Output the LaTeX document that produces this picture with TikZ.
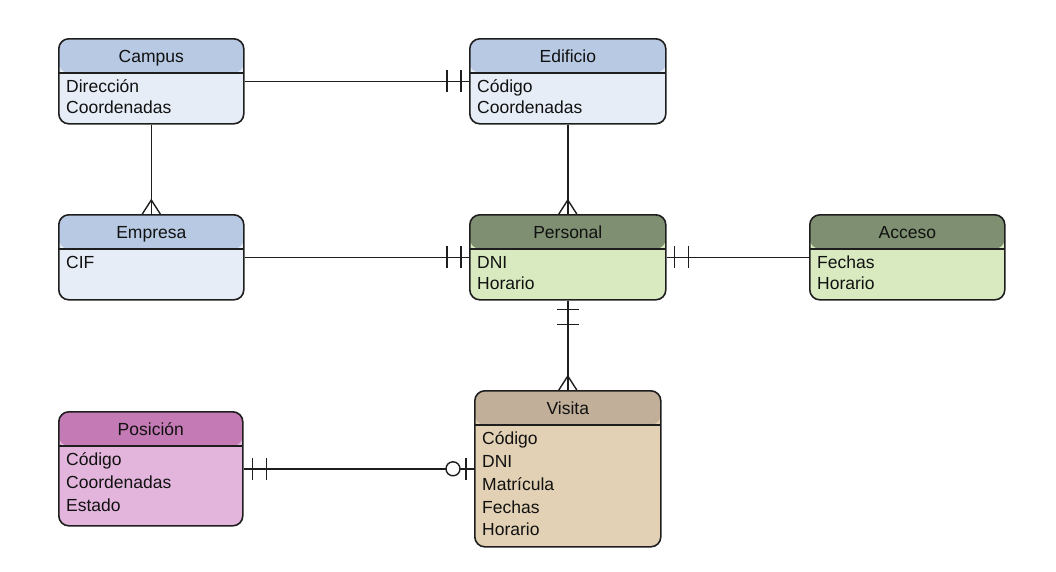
\documentclass[tikz,border=0pt]{standalone}
\usepackage{fontspec}
\setmainfont{Liberation Sans}
\usetikzlibrary{calc}
\definecolor{edge}{HTML}{1E1E1E}
\definecolor{txt}{HTML}{111111}
\definecolor{blueHead}{HTML}{B8CAE3}
\definecolor{blueBody}{HTML}{E6EDF7}
\definecolor{greenHead}{HTML}{7E8F72}
\definecolor{greenBody}{HTML}{D9EAC1}
\definecolor{tanHead}{HTML}{C1AF99}
\definecolor{tanBody}{HTML}{E2D1B4}
\definecolor{pinkHead}{HTML}{C47AB4}
\definecolor{pinkBody}{HTML}{E3B5DC}
\tikzset{
  entity/.style 2 args={draw=edge, line width=1.6pt, rounded corners=10pt, inner sep=0pt,
    anchor=north west, fill=#2,
    path picture={
      \fill[#1] (path picture bounding box.north west) rectangle ([yshift=-34pt]path picture bounding box.north east);
      \draw[edge, line width=1.5pt] ([yshift=-34pt]path picture bounding box.north west) -- ([yshift=-34pt]path picture bounding box.north east);
    }},
  etitle/.style={anchor=base, inner sep=0pt, text=txt, font=\fontsize{17.5}{21}\selectfont},
  erow/.style={anchor=base west, inner sep=0pt, text=txt, font=\fontsize{17.5}{21}\selectfont},
  conn/.style={draw=edge, line width=1.4pt},
  endmark/.style={draw=edge, line width=1.4pt},
}
\begin{document}
\begin{tikzpicture}[x=1pt,y=-1pt]
\useasboundingbox (0,0) rectangle (1056,571);
% entities
\node[entity={blueHead}{blueBody}, minimum width=185pt, minimum height=85pt] (campus) at (58,38) {};
\node[etitle] (campus-t) at ([yshift=-24pt]campus.north) {Campus};
\node[erow] (campus-r1) at ($(campus.north west)+(8,54)$) {Dirección};
\node[erow] (campus-r2) at ($(campus.north west)+(8,75)$) {Coordenadas};

\node[entity={blueHead}{blueBody}, minimum width=196pt, minimum height=85pt] (edificio) at (469,38) {};
\node[etitle] (edificio-t) at ([yshift=-24pt]edificio.north) {Edificio};
\node[erow] (edificio-r1) at ($(edificio.north west)+(8,54)$) {Código};
\node[erow] (edificio-r2) at ($(edificio.north west)+(8,75)$) {Coordenadas};

\node[entity={blueHead}{blueBody}, minimum width=185pt, minimum height=85pt] (empresa) at (58,214) {};
\node[etitle] (empresa-t) at ([yshift=-24pt]empresa.north) {Empresa};
\node[erow] (empresa-r1) at ($(empresa.north west)+(8,54)$) {CIF};

\node[entity={greenHead}{greenBody}, minimum width=196pt, minimum height=85pt] (personal) at (469,214) {};
\node[etitle] (personal-t) at ([yshift=-24pt]personal.north) {Personal};
\node[erow] (personal-r1) at ($(personal.north west)+(8,54)$) {DNI};
\node[erow] (personal-r2) at ($(personal.north west)+(8,75)$) {Horario};

\node[entity={greenHead}{greenBody}, minimum width=195pt, minimum height=85pt] (acceso) at (809,214) {};
\node[etitle] (acceso-t) at ([yshift=-24pt]acceso.north) {Acceso};
\node[erow] (acceso-r1) at ($(acceso.north west)+(8,54)$) {Fechas};
\node[erow] (acceso-r2) at ($(acceso.north west)+(8,75)$) {Horario};

\node[entity={tanHead}{tanBody}, minimum width=186pt, minimum height=156pt] (visita) at (474,390) {};
\node[etitle] (visita-t) at ([yshift=-24pt]visita.north) {Visita};
\node[erow] (visita-r1) at ($(visita.north west)+(8,54)$) {Código};
\node[erow] (visita-r2) at ($(visita.north west)+(8,77)$) {DNI};
\node[erow] (visita-r3) at ($(visita.north west)+(8,100)$) {Matrícula};
\node[erow] (visita-r4) at ($(visita.north west)+(8,123)$) {Fechas};
\node[erow] (visita-r5) at ($(visita.north west)+(8,145)$) {Horario};

\node[entity={pinkHead}{pinkBody}, minimum width=184pt, minimum height=114pt] (posicion) at (58,411) {};
\node[etitle] (posicion-t) at ([yshift=-24pt]posicion.north) {Posición};
\node[erow] (posicion-r1) at ($(posicion.north west)+(8,54)$) {Código};
\node[erow] (posicion-r2) at ($(posicion.north west)+(8,77)$) {Coordenadas};
\node[erow] (posicion-r3) at ($(posicion.north west)+(8,100)$) {Estado};

% connectors
\draw[conn] (campus.east) -- (edificio.west);
\draw[endmark] ([xshift=-8pt,yshift=-11pt]edificio.west) -- ([xshift=-8pt,yshift=11pt]edificio.west);
\draw[endmark] ([xshift=-22pt,yshift=-11pt]edificio.west) -- ([xshift=-22pt,yshift=11pt]edificio.west);

\draw[conn] (campus.south) -- (empresa.north);
\draw[endmark] ([xshift=-9pt]empresa.north) -- ([yshift=14pt]empresa.north) -- ([xshift=9pt]empresa.north);

\draw[conn] (edificio.south) -- (personal.north);
\draw[endmark] ([xshift=-9pt]personal.north) -- ([yshift=14pt]personal.north) -- ([xshift=9pt]personal.north);

\draw[conn] (empresa.east) -- (personal.west);
\draw[endmark] ([xshift=-8pt,yshift=-11pt]personal.west) -- ([xshift=-8pt,yshift=11pt]personal.west);
\draw[endmark] ([xshift=-22pt,yshift=-11pt]personal.west) -- ([xshift=-22pt,yshift=11pt]personal.west);

\draw[conn] (personal.east) -- (acceso.west);
\draw[endmark] ([xshift=8pt,yshift=-11pt]personal.east) -- ([xshift=8pt,yshift=11pt]personal.east);
\draw[endmark] ([xshift=22pt,yshift=-11pt]personal.east) -- ([xshift=22pt,yshift=11pt]personal.east);

\draw[conn] (personal.south) -- (visita.north);
\draw[endmark] ([xshift=-11pt,yshift=-9pt]personal.south) -- ([xshift=11pt,yshift=-9pt]personal.south);
\draw[endmark] ([xshift=-11pt,yshift=-24pt]personal.south) -- ([xshift=11pt,yshift=-24pt]personal.south);
\draw[endmark] ([xshift=-9pt]visita.north) -- ([yshift=14pt]visita.north) -- ([xshift=9pt]visita.north);

\coordinate (vend) at (visita.west |- posicion.east);
\draw[conn] (posicion.east) -- (vend);
\draw[endmark] ([xshift=9pt,yshift=-11pt]posicion.east) -- ([xshift=9pt,yshift=11pt]posicion.east);
\draw[endmark] ([xshift=23pt,yshift=-11pt]posicion.east) -- ([xshift=23pt,yshift=11pt]posicion.east);
\draw[endmark] ([xshift=-8pt,yshift=-11pt]vend) -- ([xshift=-8pt,yshift=11pt]vend);
\draw[endmark, fill=white] ([xshift=-21pt]vend) circle[radius=7pt];
\end{tikzpicture}
\end{document}
